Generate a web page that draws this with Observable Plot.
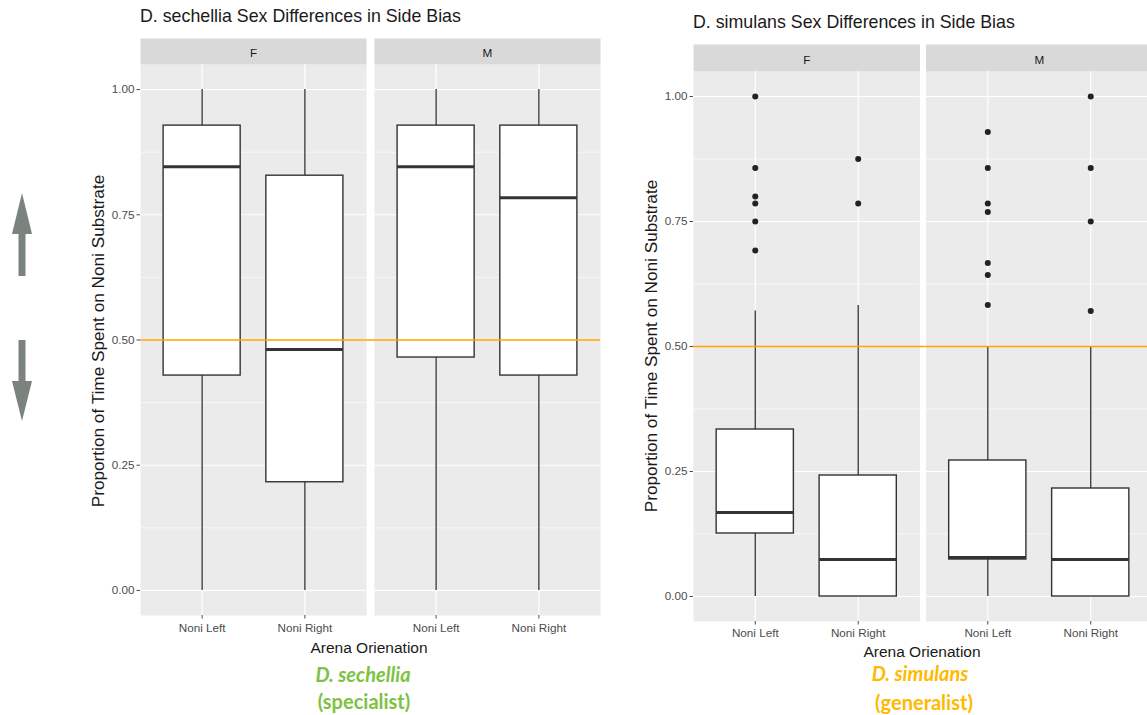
<!DOCTYPE html>
<html>
<head>
<meta charset="utf-8">
<script src="https://cdn.jsdelivr.net/npm/d3@7"></script>
<script src="https://cdn.jsdelivr.net/npm/@observablehq/plot@0.6"></script>
<style>
  html, body { margin: 0; padding: 0; background: #fff; overflow: hidden; width: 1147px; height: 715px; }
  body { position: relative; font-family: "Liberation Sans", Arial, sans-serif; }
  .abs { position: absolute; white-space: nowrap; line-height: 1; }
  .title { font-size: 17.8px; color: #1a1a1a; }
  .xlab { font-size: 15.5px; color: #1a1a1a; transform: translate(-50%, -50%); }
  .ylab { font-size: 17.2px; color: #1a1a1a; transform: translate(-50%, -50%) rotate(-90deg); }
  .sp { font-family: Lato, "Open Sans", sans-serif; font-weight: bold; font-size: 20px; transform: translate(-50%, -50%); }
</style>
</head>
<body>
<svg class="abs" style="left:0;top:0" width="50" height="715">
  <g fill="#7a837e">
    <polygon points="22,193 32,234 25.5,234 25.5,276 18.5,276 18.5,234 12,234"/>
    <polygon points="22,421 32,381 25.5,381 25.5,340 18.5,340 18.5,381 12,381"/>
  </g>
</svg>
<div id="left"></div>
<div id="right"></div>
<script>
// ---------------- data ----------------
const sexes = ["F", "M"];
const orientations = ["Noni Left", "Noni Right"];
const yTicks = [0, 0.25, 0.5, 0.75, 1];
const yMinor = [0.125, 0.375, 0.625, 0.875];
const refLine = 0.5;

// D. sechellia box statistics (order: F-Left, F-Right, M-Left, M-Right)
const sechSex = ["F", "F", "M", "M"];
const sechOrient = ["Noni Left", "Noni Right", "Noni Left", "Noni Right"];
const sechMin = [0, 0, 0, 0];
const sechQ1 = [0.429, 0.216, 0.465, 0.429];
const sechMed = [0.846, 0.481, 0.846, 0.784];
const sechQ3 = [0.928, 0.828, 0.928, 0.928];
const sechMax = [1, 1, 1, 1];

// D. simulans box statistics
const simSex = ["F", "F", "M", "M"];
const simOrient = ["Noni Left", "Noni Right", "Noni Left", "Noni Right"];
const simMin = [0, 0, 0, 0];
const simQ1 = [0.126, 0, 0.074, 0];
const simMed = [0.168, 0.074, 0.078, 0.074];
const simQ3 = [0.334, 0.242, 0.272, 0.216];
const simMax = [0.571, 0.582, 0.5, 0.5];

// D. simulans outliers
const simOutSex = ["F","F","F","F","F","F", "F","F", "M","M","M","M","M","M","M", "M","M","M","M"];
const simOutOrient = ["Noni Left","Noni Left","Noni Left","Noni Left","Noni Left","Noni Left",
  "Noni Right","Noni Right",
  "Noni Left","Noni Left","Noni Left","Noni Left","Noni Left","Noni Left","Noni Left",
  "Noni Right","Noni Right","Noni Right","Noni Right"];
const simOutVal = [1.0, 0.857, 0.8, 0.786, 0.75, 0.692,
  0.875, 0.786,
  0.929, 0.857, 0.786, 0.769, 0.667, 0.643, 0.583,
  1.0, 0.857, 0.75, 0.571];

const sechTitle = "D. sechellia Sex Differences in Side Bias";
const simTitle = "D. simulans Sex Differences in Side Bias";
const yLabel = "Proportion of Time Spent on Noni Substrate";
const xLabel = "Arena Orienation";

// ---------------- build ----------------
function rows(sex, orient, mn, q1, med, q3, mx) {
  return sex.map((s, i) => ({sex: s, orient: orient[i], min: mn[i], q1: q1[i], med: med[i], q3: q3[i], max: mx[i]}));
}
const sechBoxes = rows(sechSex, sechOrient, sechMin, sechQ1, sechMed, sechQ3, sechMax);
const simBoxes = rows(simSex, simOrient, simMin, simQ1, simMed, simQ3, simMax);
const simOut = simOutSex.map((s, i) => ({sex: s, orient: simOutOrient[i], value: simOutVal[i]}));

function makeChart({boxes, outliers, width, height, marginLeft, marginRight, marginTop, marginBottom, fxPad, stripH, xPad}) {
  const panelH = height - marginTop - marginBottom;
  const W = width - marginLeft - marginRight;
  const step = W / (sexes.length - fxPad);
  const gap = fxPad * step;
  const refRows = sexes.map(s => ({sex: s, y: refLine}));
  return Plot.plot({
    width, height, marginLeft, marginRight, marginTop, marginBottom,
    style: {fontFamily: "'Liberation Sans', Arial, sans-serif", background: "transparent", overflow: "visible"},
    fx: {domain: sexes, paddingInner: fxPad, paddingOuter: 0, round: false, label: null},
    x: {domain: orientations, type: "band", paddingInner: 0.25, paddingOuter: 0.225, round: false, label: null},
    y: {domain: [-0.05, 1.05], label: null},
    marks: [
      Plot.frame({fill: "#ebebeb"}),
      Plot.frame({fill: "#d9d9d9", insetTop: -stripH, insetBottom: panelH}),
      Plot.ruleY(yMinor, {stroke: "white", strokeWidth: 0.6}),
      Plot.ruleY(yTicks, {stroke: "white", strokeWidth: 1.2}),
      Plot.ruleX(orientations, {stroke: "white", strokeWidth: 1.2}),
      Plot.ruleX(boxes, {fx: "sex", x: "orient", y1: "min", y2: "max", stroke: "#333333", strokeWidth: 1.3}),
      Plot.barY(boxes, {fx: "sex", x: "orient", y1: "q1", y2: "q3", fill: "white", stroke: "#333333", strokeWidth: 1.4}),
      Plot.tickY(boxes, {fx: "sex", x: "orient", y: "med", stroke: "#333333", strokeWidth: 3}),
      ...(outliers ? [Plot.dot(outliers, {fx: "sex", x: "orient", y: "value", r: 3, fill: "#222", stroke: "none"})] : []),
      Plot.ruleY(refRows.filter(d => d.sex === sexes[0]), {fx: "sex", y: "y", stroke: "#ffa500", strokeWidth: 1.3, insetRight: -gap}),
      Plot.ruleY(refRows.filter(d => d.sex !== sexes[0]), {fx: "sex", y: "y", stroke: "#ffa500", strokeWidth: 1.3}),
      Plot.axisY({ticks: yTicks, tickFormat: d3.format(".2f"), tickSize: 3.5, tickPadding: 2.5, fontSize: 11.7, color: "#4d4d4d", label: null}),
      Plot.axisX({tickSize: 3.5, tickPadding: xPad, fontSize: 11.7, color: "#4d4d4d", label: null}),
      Plot.axisFx({anchor: "top", tickSize: 0, tickPadding: stripH / 2 - 5.5, fontSize: 11.7, color: "#1a1a1a", label: null})
    ]
  });
}

function place(parent, node, left, top) {
  node.style.position = "absolute";
  node.style.left = left + "px";
  node.style.top = top + "px";
  parent.appendChild(node);
  return node;
}
function label(parent, cls, text, left, top, color) {
  const d = document.createElement("div");
  d.className = "abs " + cls;
  d.textContent = text;
  if (color) d.style.color = color;
  return place(parent, d, left, top);
}

const L = document.getElementById("left");
const R = document.getElementById("right");

// Left: D. sechellia
place(L, makeChart({boxes: sechBoxes, outliers: null, width: 610, height: 610,
  marginLeft: 140, marginRight: 10, marginTop: 34, marginBottom: 25, fxPad: 0.034, stripH: 26, xPad: 5}), 0, 30);
label(L, "title", sechTitle, 140, 8);
label(L, "ylab", yLabel, 99, 341);
label(L, "xlab", xLabel, 369, 648);
label(L, "sp", "D. sechellia", 363, 674, "#7dc242").style.fontStyle = "italic";
label(L, "sp", "(specialist)", 364, 701, "#7dc242");

// Right: D. simulans
place(R, makeChart({boxes: simBoxes, outliers: simOut, width: 552, height: 616,
  marginLeft: 93, marginRight: 0, marginTop: 41, marginBottom: 25, fxPad: 0.026, stripH: 27, xPad: 4}), 600, 30);
label(R, "title", simTitle, 693, 14);
label(R, "ylab", yLabel, 652, 346);
label(R, "xlab", xLabel, 922, 652);
label(R, "sp", "D. simulans", 920, 673, "#ffb900").style.fontStyle = "italic";
label(R, "sp", "(generalist)", 924, 702, "#ffb900");
</script>
</body>
</html>
